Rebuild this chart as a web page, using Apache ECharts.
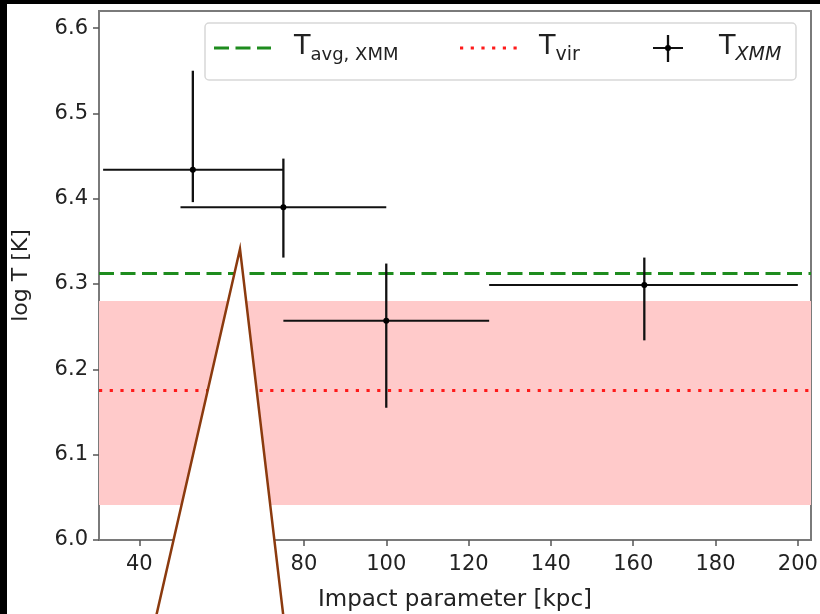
<!DOCTYPE html>
<html>
<head>
<meta charset="utf-8">
<script src="https://cdn.jsdelivr.net/npm/echarts@6/dist/echarts.min.js"></script>
<style>html,body{margin:0;padding:0;background:#fff}#c{width:820px;height:614px}</style>
</head>
<body>
<div id="c"></div>
<script>
// ---- data ----
var impactParam = [53, 75, 100, 162.7];          // kpc
var logT        = [6.434, 6.390, 6.257, 6.299];
var xErrLow     = [31.2, 50, 75, 125];
var xErrHigh    = [75, 100, 125, 200];
var yErrLow     = [6.396, 6.331, 6.155, 6.234];
var yErrHigh    = [6.550, 6.447, 6.324, 6.331];
var tAvgXMM     = 6.313;
var tVir        = 6.176;
var tVirBandLow = 6.041;
var tVirBandHigh= 6.280;
var xTicks = [40, 60, 80, 100, 120, 140, 160, 180, 200];
var yTicks = [6.0, 6.1, 6.2, 6.3, 6.4, 6.5, 6.6];
var xRange = [30.2, 203.2];
var yRange = [6.0, 6.62];

var errData = impactParam.map(function (x, i) {
  return [x, logT[i], xErrLow[i], xErrHigh[i], yErrLow[i], yErrHigh[i]];
});

var FONT = 'DejaVu Sans';
var TXT = '#222222';
var chart = echarts.init(document.getElementById('c'), null, {renderer: 'canvas'});

var option = {
  backgroundColor: '#ffffff',
  animation: false,
  grid: {left: 99, right: 9, top: 11, bottom: 74, containLabel: false, outerBoundsMode: 'none',
    show: true, borderColor: '#7a7a7a', borderWidth: 2, backgroundColor: 'transparent'},
  xAxis: {
    type: 'value', min: xRange[0], max: xRange[1],
    name: 'Impact parameter [kpc]', nameLocation: 'middle', nameGap: 49,
    nameTextStyle: {fontFamily: FONT, fontSize: 23, color: TXT},
    axisLine: {show: true, lineStyle: {color: '#7a7a7a', width: 2}},
    axisTick: {show: true, length: 6, inside: false, lineStyle: {color: '#555', width: 1.5}, customValues: xTicks},
    axisLabel: {fontFamily: FONT, fontSize: 21, color: TXT, margin: 14, customValues: xTicks},
    splitLine: {show: false}
  },
  yAxis: {
    type: 'value', min: yRange[0], max: yRange[1],
    name: 'log T [K]', nameLocation: 'middle', nameGap: 67, nameRotate: 90,
    nameTextStyle: {fontFamily: FONT, fontSize: 22, color: TXT},
    axisLine: {show: true, lineStyle: {color: '#7a7a7a', width: 2}},
    axisTick: {show: true, length: 6, lineStyle: {color: '#555', width: 1.5}, customValues: yTicks},
    axisLabel: {fontFamily: FONT, fontSize: 21, color: TXT, margin: 11, customValues: yTicks,
      formatter: function (v) { return v.toFixed(1); }},
    splitLine: {show: false}
  },
  series: [
    {
      type: 'line', name: 'band', data: [], silent: true,
      markArea: {silent: true, itemStyle: {color: '#ffcaca'},
        data: [[{yAxis: tVirBandLow}, {yAxis: tVirBandHigh}]]}
    },
    {
      type: 'line', name: 'Tavg', data: [], silent: true,
      markLine: {silent: true, symbol: 'none', precision: 4, label: {show: false},
        lineStyle: {color: '#1e8c1e', width: 3, type: [15, 6.5]},
        data: [{yAxis: tAvgXMM}]}
    },
    {
      type: 'line', name: 'Tvir', data: [], silent: true,
      markLine: {silent: true, symbol: 'none', precision: 4, label: {show: false},
        lineStyle: {color: '#ff1a1a', width: 3.2, type: [3.2, 7.5]},
        data: [{yAxis: tVir}]}
    },
    {
      type: 'custom', name: 'TXMM', z: 5,
      encode: {x: [0, 2, 3], y: [1, 4, 5]},
      data: errData,
      renderItem: function (params, api) {
        var c = api.coord([api.value(0), api.value(1)]);
        var xl = api.coord([api.value(2), api.value(1)]);
        var xh = api.coord([api.value(3), api.value(1)]);
        var yl = api.coord([api.value(0), api.value(4)]);
        var yh = api.coord([api.value(0), api.value(5)]);
        return {type: 'group', children: [
          {type: 'line', shape: {x1: xl[0], y1: xl[1], x2: xh[0], y2: xh[1]}, style: {stroke: '#111', lineWidth: 2}},
          {type: 'line', shape: {x1: yl[0], y1: yl[1], x2: yh[0], y2: yh[1]}, style: {stroke: '#111', lineWidth: 2.3}},
          {type: 'circle', shape: {cx: c[0], cy: c[1], r: 3}, style: {fill: '#000'}}
        ]};
      }
    }
  ],
  graphic: [
    // black edges of the screenshot
    {type: 'rect', shape: {x: 0, y: 0, width: 7, height: 614}, style: {fill: '#000'}, z: 100},
    {type: 'rect', shape: {x: 0, y: 0, width: 820, height: 4}, style: {fill: '#000'}, z: 100},
    // legend
    {type: 'group', z: 50, children: [
      {type: 'rect', shape: {x: 205, y: 23, width: 591, height: 57, r: 4},
        style: {fill: 'rgba(255,255,255,0.85)', stroke: '#d8d8d8', lineWidth: 1.5}},
      {type: 'line', shape: {x1: 214, y1: 48, x2: 271, y2: 48},
        style: {stroke: '#1e8c1e', lineWidth: 3, lineDash: [15, 6.5]}},
      {type: 'text', x: 294, y: 47, style: {
        text: '{t|T}{s|avg, XMM}', verticalAlign: 'middle', fill: TXT, fontFamily: FONT,
        rich: {t: {fontSize: 27, fontFamily: FONT, fill: TXT},
               s: {fontSize: 18, fontFamily: FONT, fill: TXT, padding: [17, 0, 0, 0]}}}},
      {type: 'line', shape: {x1: 460, y1: 48, x2: 518, y2: 48},
        style: {stroke: '#ff1a1a', lineWidth: 3.2, lineDash: [3.2, 7.5]}},
      {type: 'text', x: 539, y: 47, style: {
        text: '{t|T}{s|vir}', verticalAlign: 'middle', fill: TXT, fontFamily: FONT,
        rich: {t: {fontSize: 27, fontFamily: FONT, fill: TXT},
               s: {fontSize: 19, fontFamily: FONT, fill: TXT, padding: [17, 0, 0, 0]}}}},
      {type: 'line', shape: {x1: 653, y1: 48, x2: 683, y2: 48}, style: {stroke: '#111', lineWidth: 2}},
      {type: 'line', shape: {x1: 668, y1: 35, x2: 668, y2: 62}, style: {stroke: '#111', lineWidth: 2.3}},
      {type: 'circle', shape: {cx: 668, cy: 48, r: 3}, style: {fill: '#000'}},
      {type: 'text', x: 719, y: 47, style: {
        text: '{t|T}{s|XMM}', verticalAlign: 'middle', fill: TXT, fontFamily: FONT,
        rich: {t: {fontSize: 27, fontFamily: FONT, fill: TXT},
               s: {fontSize: 19, fontFamily: FONT, fontStyle: 'italic', fill: TXT, padding: [17, 0, 0, 0]}}}}
    ]},
    // callout triangle overlay
    {type: 'polygon', z: 60, shape: {points: [[240, 249], [153, 630], [285, 630]]},
      style: {fill: '#ffffff', stroke: '#8b3a0e', lineWidth: 2.5}}
  ]
};
chart.setOption(option);
</script>
</body>
</html>
